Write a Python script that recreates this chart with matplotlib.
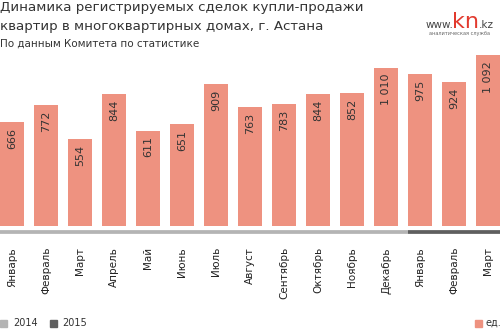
import numpy as np
import matplotlib.pyplot as plt
from matplotlib.patches import Rectangle
import matplotlib.transforms as mtransforms

months = ['Январь', 'Февраль', 'Март', 'Апрель', 'Май', 'Июнь', 'Июль', 'Август',
          'Сентябрь', 'Октябрь', 'Ноябрь', 'Декабрь', 'Январь', 'Февраль', 'Март']
values = [666, 772, 554, 844, 611, 651, 909, 763, 783, 844, 852, 1010, 975, 924, 1092]
labels = ['666', '772', '554', '844', '611', '651', '909', '763', '783', '844', '852',
          '1 010', '975', '924', '1 092']

bar_color = '#ee9280'
c2014 = '#b4b4b4'
c2015 = '#5f5f5f'

W, H = 500, 329
fig = plt.figure(figsize=(W / 100, H / 100), dpi=100)
ax = fig.add_axes([0, 1 - 226 / H, 1, 176 / H])
x = np.arange(len(values))
ax.bar(x, values, width=0.7, color=bar_color)
ax.set_xlim(-12 / 34, 14 + 12 / 34)
ax.set_ylim(0, 1127)
ax.axis('off')

for xi, v, lab in zip(x, values, labels):
    ax.annotate(lab, (xi, v), xytext=(0, -4), textcoords='offset points',
                rotation=90, ha='center', va='top', fontsize=8, color='#333333')

# year line under bars
tr = mtransforms.blended_transform_factory(ax.transData, fig.transFigure)
ly = 1 - 232 / H
ax.plot([-0.5, 11.65], [ly, ly], color=c2014, lw=2.7, transform=tr, clip_on=False,
        solid_capstyle='butt')
ax.plot([11.65, 14.5], [ly, ly], color=c2015, lw=2.7, transform=tr, clip_on=False,
        solid_capstyle='butt')

for xi, m in zip(x, months):
    ax.text(xi, 1 - 247 / H, m, transform=tr, rotation=90, ha='center', va='top',
            fontsize=7.5, color='#222222')

# titles
fig.text(0.0, 1 - 1 / H, 'Динамика регистрируемых сделок купли-продажи', fontsize=9.6,
         va='top', ha='left', color='#333333')
fig.text(0.0, 1 - 20 / H, 'квартир в многоквартирных домах, г. Астана', fontsize=9.6,
         va='top', ha='left', color='#333333')
fig.text(0.0, 1 - 39 / H, 'По данным Комитета по статистике', fontsize=7.5,
         va='top', ha='left', color='#333333')

# logo
fig.text(453 / W, 1 - 28 / H, 'www.', fontsize=7.5, ha='right', va='baseline', color='#444444')
fig.text(452 / W, 1 - 28 / H, 'kn', fontsize=16, ha='left', va='baseline', color='#e23a2e')
fig.text(479 / W, 1 - 28 / H, '.kz', fontsize=7.5, ha='left', va='baseline', color='#444444')
fig.text(459.5 / W, 1 - 35 / H, 'аналитическая служба', fontsize=3.6, ha='center',
         va='baseline', color='#666666')

# legend
ly2 = 1 - 323 / H
fig.patches.append(Rectangle((0 / W, ly2 - 3.5 / H), 7 / W, 7 / H, color=c2014,
                             transform=fig.transFigure))
fig.text(13 / W, ly2, '2014', fontsize=7, va='center', ha='left', color='#333333')
fig.patches.append(Rectangle((50 / W, ly2 - 3.5 / H), 7 / W, 7 / H, color=c2015,
                             transform=fig.transFigure))
fig.text(62 / W, ly2, '2015', fontsize=7, va='center', ha='left', color='#333333')
fig.patches.append(Rectangle((475 / W, ly2 - 3.5 / H), 7 / W, 7 / H, color=bar_color,
                             transform=fig.transFigure))
fig.text(485 / W, ly2, 'ед.', fontsize=7, va='center', ha='left', color='#333333')

fig.savefig('out.png', dpi=100)
